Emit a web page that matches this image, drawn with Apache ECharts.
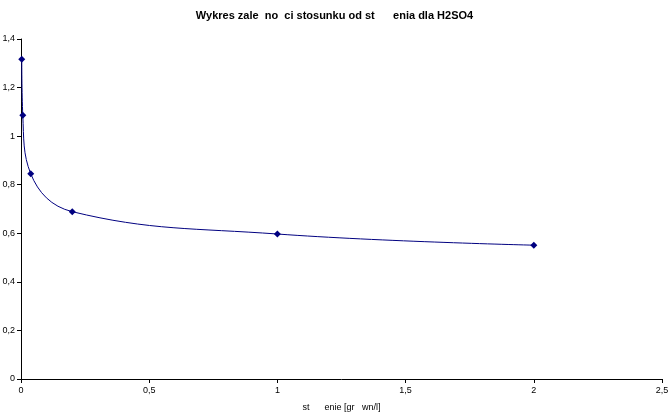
<!DOCTYPE html>
<html>
<head>
<meta charset="utf-8">
<script src="https://cdn.jsdelivr.net/npm/echarts@6/dist/echarts.min.js"></script>
<style>
  html, body { margin: 0; padding: 0; background: #fff; }
  #chart { width: 669px; height: 416px; }
</style>
</head>
<body>
<div id="chart"></div>
<script>
// stężenie (x) i stosunek (y)
const concentration = [0.003, 0.007, 0.038, 0.2, 1, 2]
const ratio = [1.317, 1.086, 0.845, 0.689, 0.597, 0.551]
const xTicks = ['0', '0,5', '1', '1,5', '2', '2,5']

const fmt = (v) => String(v).replace('.', ',')

const chart = echarts.init(document.getElementById('chart'))

chart.setOption({
  animation: false,
  title: {
    text: 'Wykres zale  no  ci stosunku od st      enia dla H2SO4',
    left: 'center',
    top: 5,
    textStyle: {
      fontFamily: 'Liberation Sans, Arial, sans-serif',
      fontSize: 11,
      fontWeight: 'bold',
      color: '#000'
    }
  },
  grid: {
    left: 21,
    right: 7,
    top: 39,
    bottom: 37,
    containLabel: false,
    outerBoundsMode: 'none'
  },
  xAxis: {
    type: 'value',
    min: 0,
    max: 2.5,
    interval: 0.5,
    name: 'st      enie [gr   wn/l]',
    nameLocation: 'middle',
    nameGap: 24,
    nameTextStyle: {
      fontFamily: 'Liberation Sans, Arial, sans-serif',
      fontSize: 9,
      color: '#000'
    },
    axisLine: { lineStyle: { color: '#000', width: 1 } },
    axisTick: { show: true, length: 4, lineStyle: { color: '#000' } },
    axisLabel: {
      color: '#000',
      fontSize: 9,
      fontFamily: 'Liberation Sans, Arial, sans-serif',
      margin: 7,
      formatter: (v) => xTicks[Math.round(v / 0.5)] ?? fmt(v)
    },
    splitLine: { show: false }
  },
  yAxis: {
    type: 'value',
    min: 0,
    max: 1.4,
    interval: 0.2,
    axisLine: { show: true, lineStyle: { color: '#000', width: 1 } },
    axisTick: { show: true, length: 4, lineStyle: { color: '#000' } },
    axisLabel: {
      color: '#000',
      fontSize: 9,
      fontFamily: 'Liberation Sans, Arial, sans-serif',
      margin: 6,
      formatter: (v) => fmt(Math.round(v * 10) / 10)
    },
    splitLine: { show: false }
  },
  series: [
    {
      type: 'line',
      data: concentration.map((x, i) => [x, ratio[i]]),
      smooth: 0.4,
      symbol: 'diamond',
      symbolSize: 7,
      lineStyle: { color: '#000080', width: 1 },
      itemStyle: { color: '#000080' }
    }
  ]
})
</script>
</body>
</html>
